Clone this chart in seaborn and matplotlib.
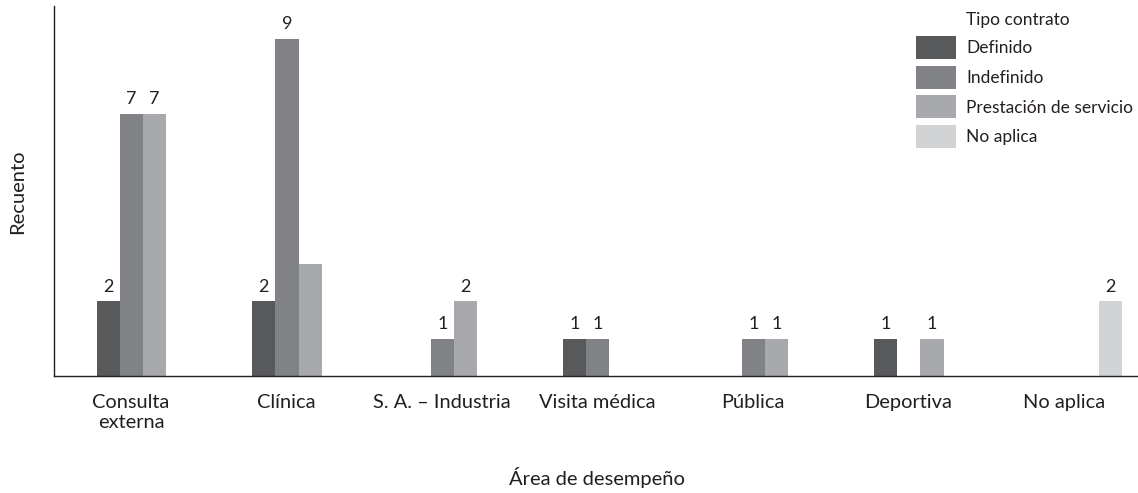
import matplotlib
matplotlib.use("Agg")
import matplotlib.pyplot as plt
import matplotlib.transforms as mtransforms
import seaborn as sns
import pandas as pd

# ---- data ----
categories = ["Consulta\nexterna", "Clínica", "S. A. – Industria", "Visita médica",
              "Pública", "Deportiva", "No aplica"]
hue_levels = ["Definido", "Indefinido", "Prestación de servicio", "No aplica"]
definido = [2, 2, 0, 1, 0, 1, 0]
indefinido = [7, 9, 1, 1, 1, 0, 0]
prestacion = [7, 3, 2, 0, 1, 1, 0]
no_aplica = [0, 0, 0, 0, 0, 0, 2]
# which bars carry a printed count (Clínica / Prestación has none in the source)
show_definido = [True, True, False, True, False, True, False]
show_indefinido = [True, True, True, True, True, False, False]
show_prestacion = [True, False, True, False, True, True, False]
show_no_aplica = [False, False, False, False, False, False, True]

colors = ["#58595b", "#808285", "#a7a9ac", "#d1d3d4"]

series = [definido, indefinido, prestacion, no_aplica]
shows = [show_definido, show_indefinido, show_prestacion, show_no_aplica]

rows = []
for lvl, vals in zip(hue_levels, series):
    for cat, v in zip(categories, vals):
        rows.append({"Área": cat, "Tipo": lvl, "Recuento": v})
df = pd.DataFrame(rows)

sns.set_style("white")
FONT = ["Lato", "DejaVu Sans"]
plt.rcParams["font.family"] = FONT
TXT = "#231f20"
plt.rcParams["text.color"] = TXT

W, H = 1138, 493
fig = plt.figure(figsize=(W / 100, H / 100), dpi=100)
ax = fig.add_axes([54 / W, (H - 376) / H, (W - 54) / W, (376 - 6) / H])

sns.barplot(data=df, x="Área", y="Recuento", hue="Tipo", order=categories,
            hue_order=hue_levels, palette=colors, width=0.598, saturation=1,
            ax=ax, linewidth=0, errorbar=None)

for cont, vals, sh in zip(ax.containers, series, shows):
    labels = [str(v) if s else "" for v, s in zip(vals, sh)]
    ax.bar_label(cont, labels=labels, padding=4.5, fontsize=13, color=TXT)

ax.set_xlim(-0.573, 6.40)
ax.set_ylim(0, 9.87)
ax.set_yticks([])
sns.despine(ax=ax, top=True, right=True)
for s in ["left", "bottom"]:
    ax.spines[s].set_color(TXT)
    ax.spines[s].set_linewidth(1.0)

ax.tick_params(axis="x", length=0, pad=13, labelsize=14.4, colors=TXT)
offset = mtransforms.ScaledTranslation(-12 / 100, 0, fig.dpi_scale_trans)
for lab in ax.get_xticklabels():
    lab.set_transform(lab.get_transform() + offset)
    lab.set_linespacing(1.2)

ax.set_xlabel("Área de desempeño", fontsize=14.5, color=TXT)
ax.xaxis.set_label_coords((597 - 54) / (W - 54), (376 - 467) / 370)
ax.set_ylabel("Recuento", fontsize=14.5, color=TXT, va="center")
ax.yaxis.set_label_coords((18 - 54) / (W - 54), (376 - 192) / 370)

# legend
handles, labels = ax.get_legend_handles_labels()
if ax.get_legend() is not None:
    ax.get_legend().remove()
fs = 12.5
fs_px = fs * 100 / 72
patch_h = 23 / fs_px
hh = (patch_h - 0.245) / 0.65
leg = fig.legend(handles, labels, loc="upper left",
                 bbox_to_anchor=(916 / W, 1 - 36 / H), bbox_transform=fig.transFigure,
                 frameon=False, fontsize=fs, borderpad=0, borderaxespad=0,
                 handlelength=40 / fs_px, handleheight=hh,
                 labelspacing=6.7 / fs_px, handletextpad=10 / fs_px)
for t in leg.get_texts():
    t.set_color(TXT)
fig.text(966 / W, 1 - 20 / H, "Tipo contrato", fontsize=fs, va="center", ha="left",
         color=TXT)

fig.savefig("out.png", dpi=100)
